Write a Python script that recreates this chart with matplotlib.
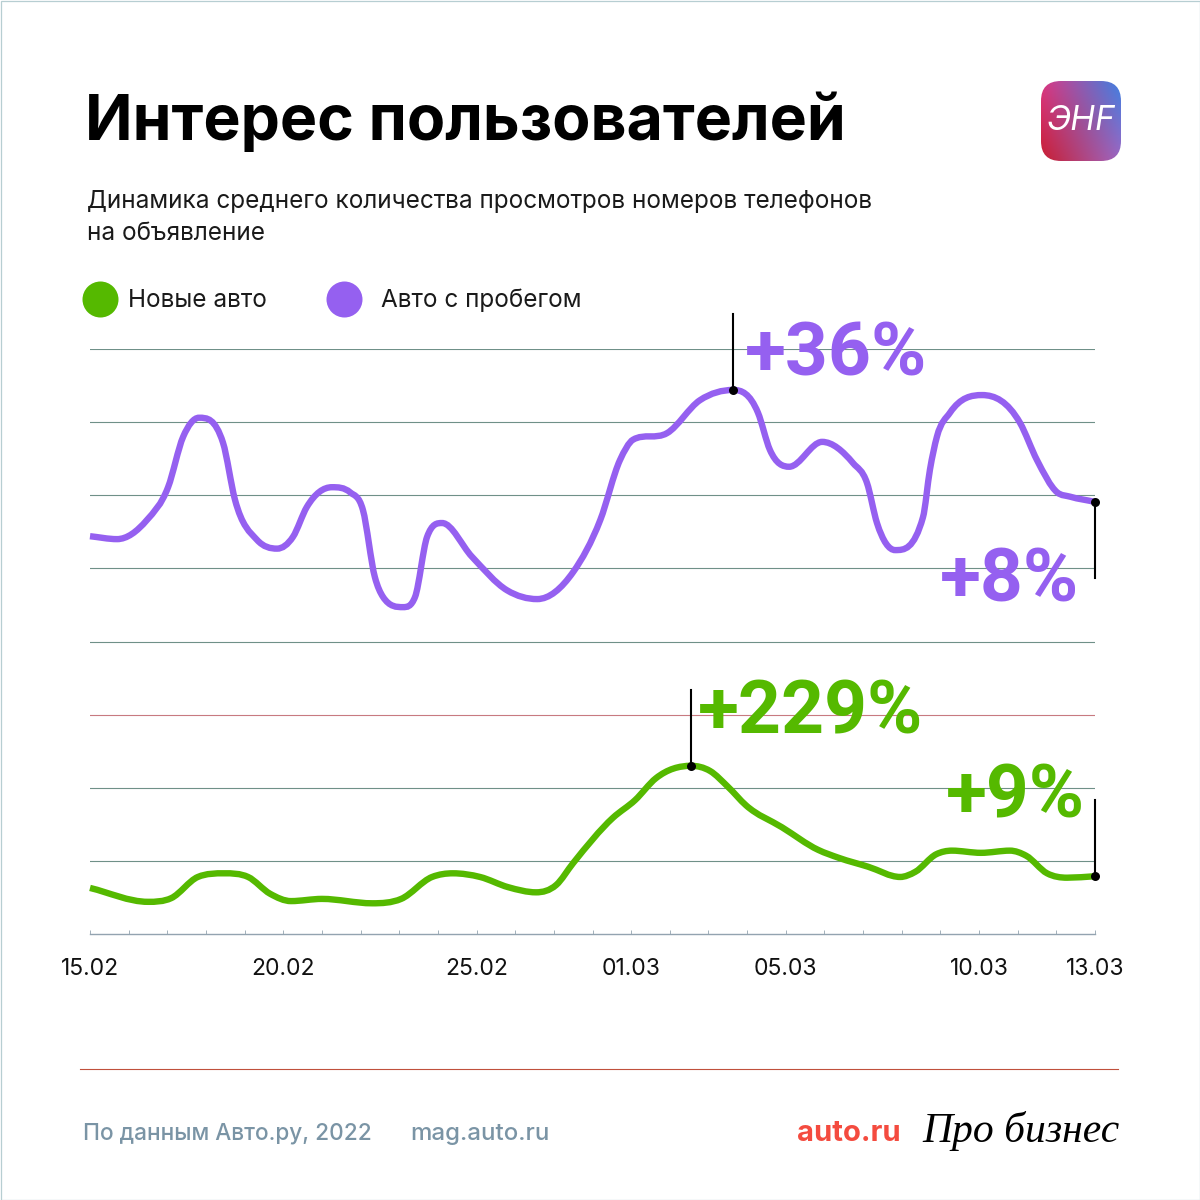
import numpy as np
from matplotlib import pyplot as plt
from matplotlib.patches import FancyBboxPatch, PathPatch, Rectangle
from matplotlib.path import Path

# Values. x is days since 15.02, y is in grid steps
used_days = [0, 0.70, 1.47, 2.02, 2.41, 2.82, 3.44, 3.75, 4.32, 4.84, 5.25, 5.61, 6.26, 6.73, 7.06,
             7.37, 7.58, 8.10, 8.41, 8.72, 9.11, 9.88, 10.79, 11.57, 12.50, 13.20, 13.71, 14.05,
             14.93, 15.78, 16.64, 17.28, 17.59, 18.09, 18.94, 19.74, 20.10, 20.36, 20.83, 21.55,
             21.73, 21.91, 22.25, 23.08, 24.06, 24.50, 25.02, 25.36, 26]
used_values = [5.44, 5.40, 5.66, 6.11, 6.80, 7.06, 6.72, 5.94, 5.39, 5.27, 5.43, 5.84, 6.11, 6.04, 5.80,
               4.88, 4.61, 4.47, 4.61, 5.43, 5.62, 5.16, 4.70, 4.58, 4.95, 5.66, 6.48, 6.76,
               6.85, 7.30, 7.44, 7.13, 6.62, 6.39, 6.73, 6.44, 6.17, 5.62, 5.25, 5.70,
               6.35, 6.80, 7.13, 7.37, 6.99, 6.48, 6.04, 5.98, 5.91]

new_days = [0, 1.50, 2.10, 2.79, 3.47, 4.09, 4.66, 5.20, 6.00, 7.30, 8.05, 8.85, 9.39, 10.09, 10.82,
            11.54, 12.06, 12.50, 13.53, 14.10, 14.64, 15.55, 16.04, 16.51, 16.97, 17.90, 18.84,
            19.38, 20.13, 20.96, 21.35, 21.89, 22.30, 23.05, 23.80, 24.22, 24.76, 25.28, 26]
new_values = [0.63, 0.44, 0.49, 0.78, 0.83, 0.78, 0.55, 0.45, 0.48, 0.42, 0.48, 0.78, 0.83, 0.78, 0.64,
              0.57, 0.67, 0.97, 1.59, 1.83, 2.13, 2.30, 2.23, 2.01, 1.76, 1.46, 1.15,
              1.04, 0.92, 0.78, 0.85, 1.09, 1.14, 1.11, 1.14, 1.07, 0.83, 0.77, 0.79]

label_days = [0, 5, 10, 14, 18, 23, 26]
label_dates = ["15.02", "20.02", "25.02", "01.03", "05.03", "10.03", "13.03"]

GREEN = "#55b900"
PURPLE = "#9560f0"
GRAY = "#7a94a5"
FONT = "Inter"


def smooth_path(x, y):
    # cubic pieces through the read points: flat at peaks, slopes capped so nothing overshoots
    x, y = np.array(x), np.array(y)
    h = np.diff(x)
    d = np.diff(y) / h
    slope = np.zeros(len(x))
    for i in range(1, len(x) - 1):
        if d[i - 1] * d[i] > 0:
            s = (h[i] * d[i - 1] + h[i - 1] * d[i]) / (h[i - 1] + h[i])
            slope[i] = np.sign(s) * min(abs(s), 3 * abs(d[i - 1]), 3 * abs(d[i]))
    slope[0] = d[0]
    slope[-1] = d[-1]
    verts = [(x[0], y[0])]
    codes = [Path.MOVETO]
    for i in range(len(x) - 1):
        dx = h[i] / 3
        verts += [(x[i] + dx, y[i] + slope[i] * dx),
                  (x[i + 1] - dx, y[i + 1] - slope[i + 1] * dx),
                  (x[i + 1], y[i + 1])]
        codes += [Path.CURVE4] * 3
    return Path(verts, codes)


fig = plt.figure(figsize=(12, 12), dpi=100, facecolor="white")

# page layer in pixels, for everything that is not the chart
page = fig.add_axes([0, 0, 1, 1])
page.set_xlim(0, 1200)
page.set_ylim(1200, 0)
page.axis("off")
page.add_patch(Rectangle((0.5, 0.5), 1199, 1199, fill=False, ec="#b7ced2", lw=0.9))

page.text(85, 140, "Интерес пользователей", fontsize=45, fontweight="bold", family=FONT, color="black")
page.text(87, 208, "Динамика среднего количества просмотров номеров телефонов",
          fontsize=17.5, family=FONT, color="#1a1a1a")
page.text(87, 240, "на объявление", fontsize=17.5, family=FONT, color="#1a1a1a")

page.scatter([100], [299], s=672, color=GREEN, linewidths=0)
page.scatter([344], [299], s=672, color=PURPLE, linewidths=0)
page.text(128, 307, "Новые авто", fontsize=17.5, family=FONT, color="#1a1a1a")
page.text(381, 307, "Авто с пробегом", fontsize=17.5, family=FONT, color="#1a1a1a")

page.plot([80, 1118], [1069, 1069], color="#c0503c", lw=0.8)
page.text(83, 1140, "По данным Авто.ру, 2022", fontsize=16.3, family=FONT, color=GRAY, fontweight="medium")
page.text(410, 1140, "mag.auto.ru", fontsize=17.3, family=FONT, color=GRAY, fontweight="medium")
page.text(797, 1141, "auto.ru", fontsize=21, family=FONT, color="#f44b3f", fontweight="bold")
page.text(922, 1142, "Про бизнес", fontsize=30, family="Liberation Serif", style="italic", color="black")

# logo with a four corner gradient
u, v = np.meshgrid(np.linspace(0, 1, 64), np.linspace(0, 1, 64))
u, v = u[..., None], v[..., None]
corners = ((1 - v) * ((1 - u) * np.array([0.86, 0.22, 0.52]) + u * np.array([0.25, 0.50, 0.88]))
           + v * ((1 - u) * np.array([0.78, 0.12, 0.20]) + u * np.array([0.62, 0.40, 0.76])))
grad = page.imshow(corners, extent=(1041, 1121, 161, 81), interpolation="bilinear", aspect="auto", zorder=2)
badge = FancyBboxPatch((1059, 99), 44, 44, boxstyle="round,pad=18,rounding_size=20",
                       fc="none", ec="none", transform=page.transData)
page.add_patch(badge)
grad.set_clip_path(badge)
page.set_xlim(0, 1200)
page.set_ylim(1200, 0)
page.text(1081, 121, "ЭНF", fontsize=24, color="white", family=FONT, style="italic",
          ha="center", va="center", zorder=3)

# chart
ax = fig.add_axes([90 / 1200, 1 - 934 / 1200, 1005 / 1200, 585 / 1200])
ax.patch.set_alpha(0)
ax.set_xlim(0, 26)
ax.set_ylim(0, 8)
for side in ["top", "right", "left"]:
    ax.spines[side].set_visible(False)
ax.spines["bottom"].set_color("#93a3b0")
ax.spines["bottom"].set_linewidth(1)
ax.set_yticks([])
ax.set_xticks(label_days, label_dates)
ax.set_xticks(range(27), minor=True)
ax.tick_params(axis="x", which="both", direction="in", length=3, width=0.6, color="#93a3b0", pad=17)
for label in ax.get_xticklabels():
    label.set_fontsize(16.5)
    label.set_fontfamily(FONT)
    label.set_color("#111111")

for level in [1, 2, 4, 5, 6, 7, 8]:
    ax.axhline(level, color="#6f9088", lw=0.8, zorder=1)
ax.axhline(3, color="#c87a80", lw=0.8, zorder=1)

ax.add_patch(PathPatch(smooth_path(used_days, used_values), fill=False, ec=PURPLE, lw=4.6,
                       capstyle="butt", zorder=3, clip_on=False))
ax.add_patch(PathPatch(smooth_path(new_days, new_values), fill=False, ec=GREEN, lw=4.6,
                       capstyle="butt", zorder=3, clip_on=False))

# markers: peak and last day of each series, with their leader lines
ax.plot([16.64, 16.64], [7.44, 8.48], color="black", lw=1.5, clip_on=False, zorder=4)
ax.plot([26, 26], [5.91, 4.87], color="black", lw=1.5, clip_on=False, zorder=4)
ax.plot([15.55, 15.55], [2.30, 3.34], color="black", lw=1.5, clip_on=False, zorder=4)
ax.plot([26, 26], [0.79, 1.83], color="black", lw=1.5, clip_on=False, zorder=4)
ax.scatter([16.64, 26, 15.55, 26], [7.44, 5.91, 2.30, 0.79], s=42, color="black",
           linewidths=0, clip_on=False, zorder=5)

page.set_zorder(0)
ax.set_zorder(1)
big = {"fontsize": 54, "fontweight": "bold", "family": "Roboto", "zorder": 6}
fig.text(745 / 1200, 1 - 375 / 1200, "+36%", color=PURPLE, **big)
fig.text(940 / 1200, 1 - 602 / 1200, "+8%", color=PURPLE, **big)
fig.text(698 / 1200, 1 - 734 / 1200, "+229%", color=GREEN, **big)
fig.text(946 / 1200, 1 - 817 / 1200, "+9%", color=GREEN, **big)

fig.savefig("out.png", dpi=100)
plt.close(fig)
